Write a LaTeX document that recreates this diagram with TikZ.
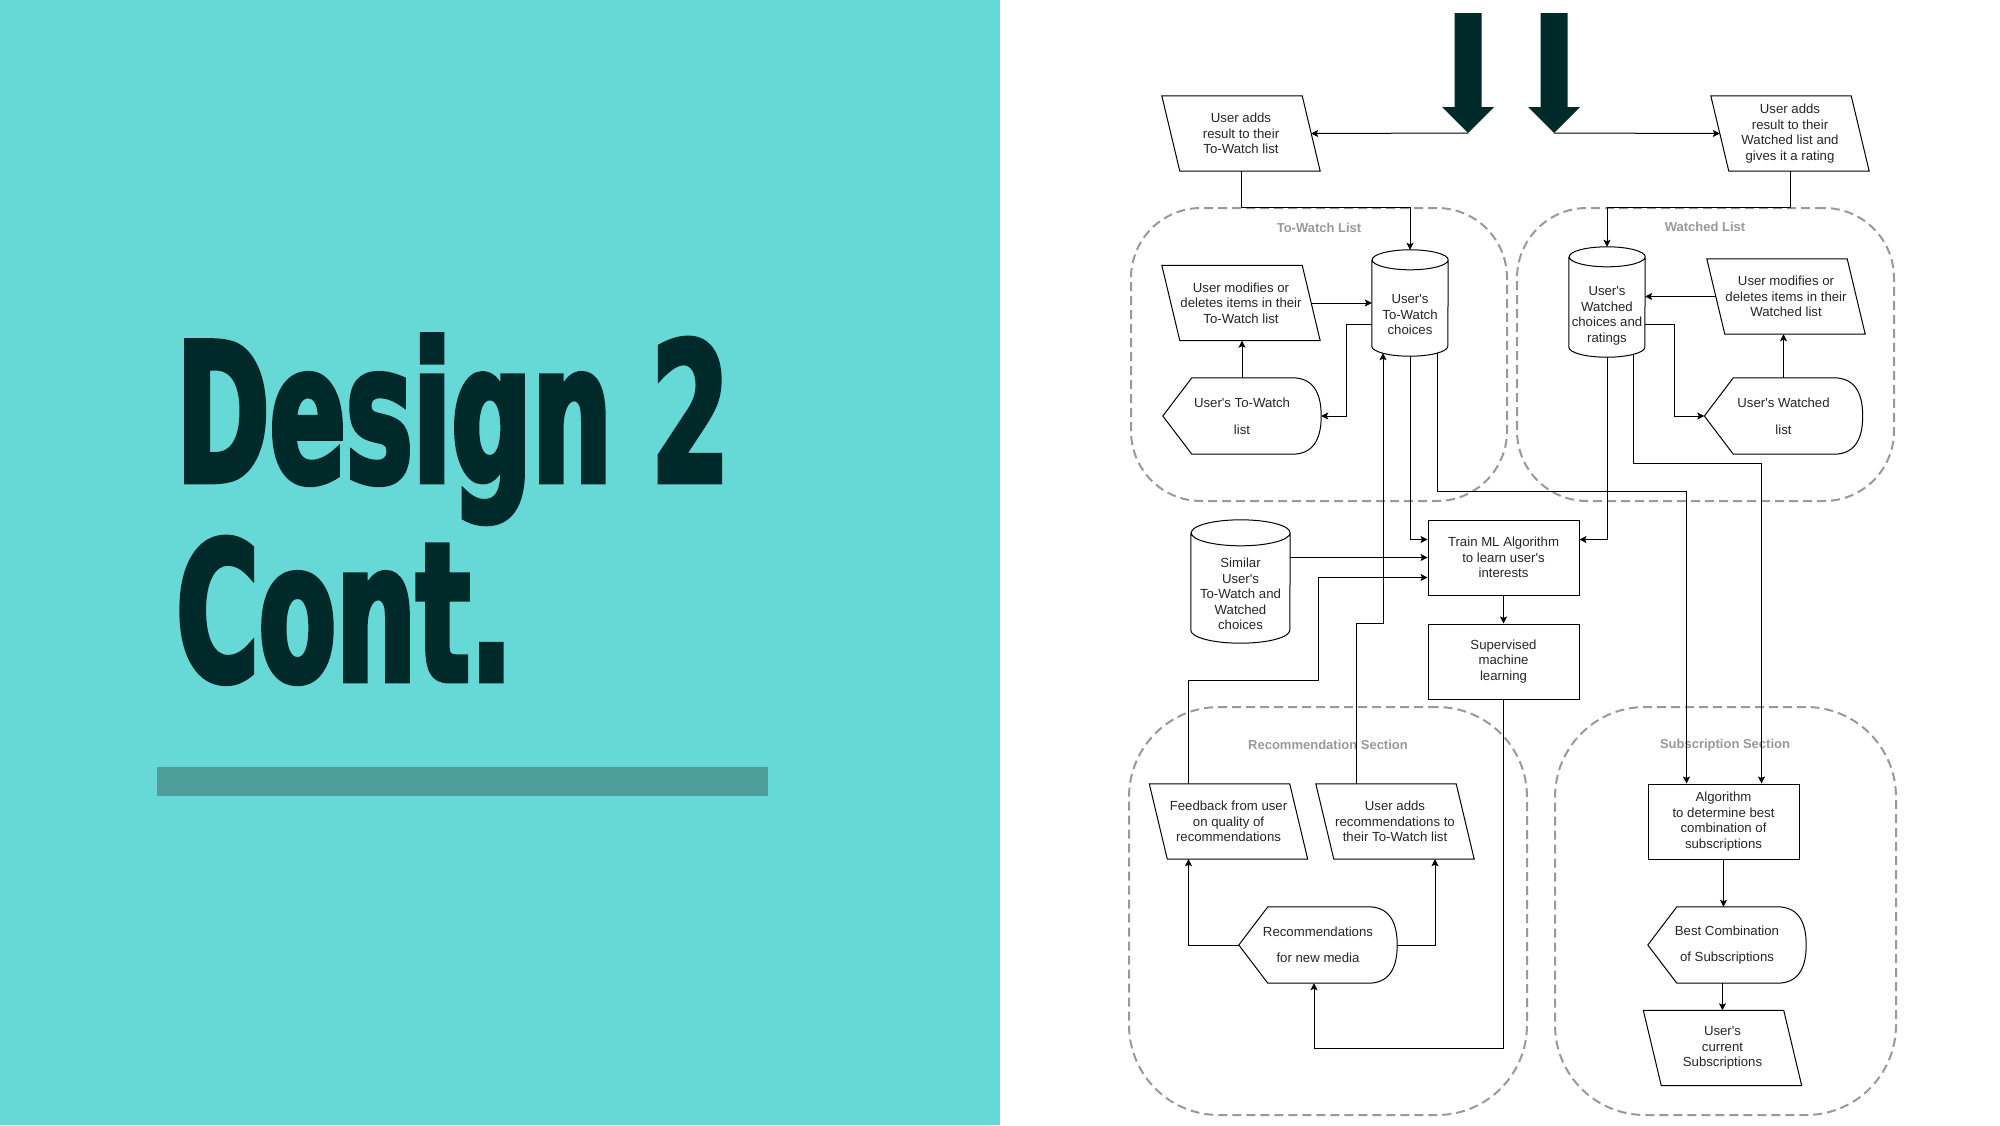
\documentclass[tikz,border=0pt]{standalone}
\usepackage{fontspec}
\usetikzlibrary{arrows.meta}
\newfontfamily\flowfont{Liberation Sans}
\newfontfamily\titlefont{DejaVu Sans}[FakeStretch=0.58, FakeBold=2.5]
\definecolor{slidebg}{HTML}{66D9D6}
\definecolor{slidebar}{HTML}{4E9E9B}
\definecolor{darkink}{HTML}{00292A}
\definecolor{groupgray}{HTML}{999999}
\begin{document}
\begin{tikzpicture}[
        x=1pt, y=-1pt,
        flow/.style={font=\flowfont\fontsize{13.2}{15.5}\selectfont, text=black!85, align=center, inner sep=0pt},
        line/.style={draw=black, line width=1pt},
        conn/.style={line, -{Stealth[length=7pt,width=7pt,inset=1.5pt]}},
        procbox/.style={flow, line, minimum width=151, minimum height=75},
        databox/.style={flow, minimum width=140, minimum height=75,
            append after command={\pgfextra{\draw[line]
                ([xshift=-9]\tikzlastnode.north west) -- ([xshift=-9]\tikzlastnode.north east)
                -- ([xshift=9]\tikzlastnode.south east) -- ([xshift=9]\tikzlastnode.south west) -- cycle;}}},
        dispbox/.style={flow, minimum width=158, minimum height=76,
            append after command={\pgfextra{\draw[line]
                (\tikzlastnode.west) -- ([xshift=29]\tikzlastnode.north west)
                -- ([xshift=-29]\tikzlastnode.north east)
                .. controls ([xshift=-9.7]\tikzlastnode.north east) and ([yshift=-12.7]\tikzlastnode.north east) .. (\tikzlastnode.east)
                .. controls ([yshift=12.7]\tikzlastnode.south east) and ([xshift=-9.7]\tikzlastnode.south east) .. ([xshift=-29]\tikzlastnode.south east)
                -- ([xshift=29]\tikzlastnode.south west) -- cycle;}}},
        cylbox/.style n args={3}{flow, minimum width={2*#1}, minimum height=#2,
            append after command={\pgfextra{\draw[line]
                ([yshift=-#3]\tikzlastnode.north west) -- ([yshift=#3]\tikzlastnode.south west)
                arc[start angle=180, end angle=360, x radius=#1pt, y radius=#3pt]
                -- ([yshift=-#3]\tikzlastnode.north east)
                arc[start angle=0, end angle=360, x radius=#1pt, y radius=#3pt];}}},
        group/.style n args={3}{draw=groupgray, line width=2pt, dash pattern=on 9pt off 5pt,
            rounded corners=#3pt, minimum width=#1, minimum height=#2, inner sep=0pt},
        grouptitle/.style={font=\flowfont\bfseries\fontsize{13}{15}\selectfont, text=groupgray, inner sep=0pt},
        titletext/.style={font=\titlefont\bfseries\fontsize{194}{240}\selectfont, text=darkink, inner sep=0pt, anchor=base west}
    ]
    \useasboundingbox (0,0) rectangle (2000,1125);
    % slide halves
    \fill[slidebg] (0,0) rectangle (1000,1125);
    \fill[white] (1000,0) rectangle (2000,1125);
    \fill[slidebar] (157,767) rectangle (768,796);
    \node[titletext] (title1) at (176,482) {Design 2};
    \node[titletext] (title2) at (176,681) {Cont.};

    % block arrows at the top
    \foreach \x/\name in {1468/arrL, 1554/arrR} {
        \fill[darkink] (\x-13.5,13) -- (\x+13.5,13) -- (\x+13.5,107) -- (\x+26,107)
            -- (\x,133) -- (\x-26,107) -- (\x-13.5,107) -- cycle;
        \coordinate (\name) at (\x,133);
    }

    % dashed sections
    \node[group={376}{293}{70}] (twgroup) at (1319,354.5) {};
    \node[group={377}{293}{70}] (wgroup) at (1705.5,354.5) {};
    \node[group={398}{408}{90}] (recgroup) at (1328,911) {};
    \node[group={341}{408}{90}] (subgroup) at (1725.5,911) {};
    \node[grouptitle] (twtitle) at (1319,228) {To-Watch List};
    \node[grouptitle] (wtitle) at (1705,227) {Watched List};
    \node[grouptitle] (rectitle) at (1328,745) {Recommendation Section};
    \node[grouptitle] (subtitle) at (1725,745) {Subscription Section};

    % top inputs
    \node[databox] (addtw) at (1241,133.5) {User adds\\result to their\\To-Watch list};
    \node[databox] (addw) at (1790,133.5) {User adds\\result to their\\Watched list and\\gives it a rating};

    % to-watch list
    \node[cylbox={38}{106}{10}, label={[flow, yshift=-12]center:{User's\\To-Watch\\choices}}] (twdb) at (1410,303) {};
    \node[databox] (modtw) at (1241,303) {User modifies or\\deletes items in their\\To-Watch list};
    \node[dispbox] (showtw) at (1242,416) {User's To-Watch\\[11.5pt]list};

    % watched list
    \node[cylbox={38}{110}{10}, label={[flow, yshift=-14]center:{User's\\Watched\\choices and\\ratings}}] (wdb) at (1607,302) {};
    \node[databox] (modw) at (1786,296.5) {User modifies or\\deletes items in their\\Watched list};
    \node[dispbox] (showw) at (1783.5,416) {User's Watched\\[11.5pt]list};

    % learning
    \node[cylbox={49.5}{123}{13}, label={[flow, yshift=-12.5]center:{Similar\\User's\\To-Watch and\\Watched\\choices}}] (simdb) at (1240.5,581.5) {};
    \node[procbox] (train) at (1503.5,557.5) {Train ML Algorithm\\to learn user's\\interests};
    \node[procbox] (superv) at (1503.5,661.5) {Supervised\\machine\\learning};

    % recommendation section
    \node[databox] (feedback) at (1228.5,821.5) {Feedback from user\\on quality of\\recommendations};
    \node[databox] (addrec) at (1395,821.5) {User adds\\recommendations to\\their To-Watch list};
    \node[dispbox] (showrec) at (1318,945) {Recommendations\\[11pt]for new media};

    % subscription section
    \node[procbox] (algo) at (1723.5,821.5) {Algorithm\\to determine best\\combination of\\subscriptions};
    \node[dispbox] (showsub) at (1727,945) {Best Combination\\[11pt]of Subscriptions};
    \node[databox] (cursub) at (1722.5,1048) {User's\\current\\Subscriptions};

    % connectors
    \draw[conn] (arrL) -- (addtw.east);
    \draw[conn] (arrR) -- (addw.west);
    \draw[conn] (addtw.south) -- (addtw.south |- twgroup.north) -| (twdb.north);
    \draw[conn] (addw.south) -- (addw.south |- wgroup.north) -| (wdb.north);

    \draw[conn] (modtw.east) -- (modtw.east -| twdb.west);
    \draw[conn] ([yshift=-21]twdb.west) -| ([xshift=25]showtw.east) -- (showtw.east);
    \draw[conn] (showtw.north) -- (showtw.north |- modtw.south);

    \draw[conn] (modw.west) -- (modw.west -| wdb.east);
    \draw[conn] ([yshift=-22]wdb.east) -| ([xshift=-30]showw.west) -- (showw.west);
    \draw[conn] (showw.north) -- (showw.north |- modw.south);

    \draw[conn] (twdb.south) |- ([yshift=18]train.west);
    \draw[conn] (wdb.south) |- ([yshift=18]train.east);
    \draw[conn] (simdb.east |- train.west) -- (train.west);
    \draw[conn] ([xshift=-40]feedback.north) -- ++(0,-103) -- ++(130,0) |- ([yshift=-20]train.west);
    \draw[conn] ([xshift=-39]addrec.north) -- ++(0,-160) -| ([xshift=-27,yshift=3]twdb.south);
    \draw[conn] ([xshift=27,yshift=3]twdb.south) -- ++(0,138) -| ([xshift=-37]algo.north);
    \draw[conn] ([xshift=26,yshift=3]wdb.south) -- ++(0,109) -| ([xshift=38]algo.north);

    \draw[conn] (train.south) -- (superv.north);
    \draw[conn] (superv.south) -- ++(0,349) -| ([xshift=-4]showrec.south);
    \draw[conn] (showrec.west) -| ([xshift=-40]feedback.south);
    \draw[conn] (showrec.east) -| ([xshift=40]addrec.south);

    \draw[conn] (algo.south) -- (algo.south |- showsub.north);
    \draw[conn] (showsub.south -| cursub.north) -- (cursub.north);
\end{tikzpicture}
\end{document}
